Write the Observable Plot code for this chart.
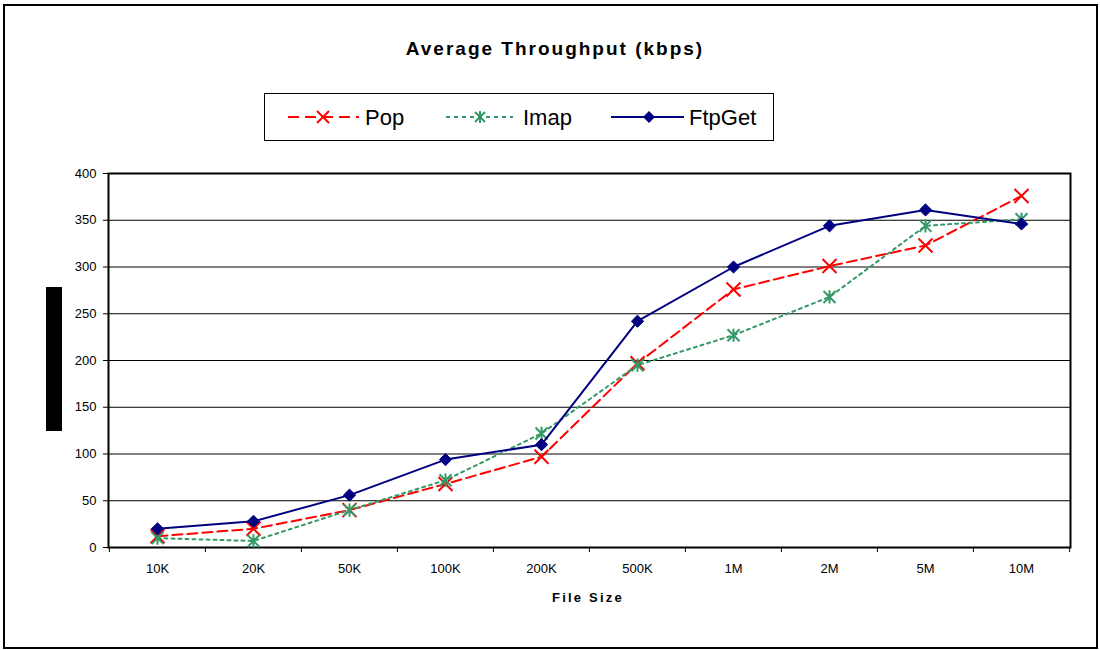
<!DOCTYPE html>
<html><head><meta charset="utf-8">
<script src="https://cdn.jsdelivr.net/npm/d3@7"></script>
<script src="https://cdn.jsdelivr.net/npm/@observablehq/plot@0.6"></script>
<style>
body{margin:0;background:#fff;font-family:"Liberation Sans",Arial,sans-serif;}
#wrap{position:relative;width:1100px;height:650px;overflow:hidden;background:#fff}
#outer{position:absolute;left:3px;top:4px;width:1095px;height:645px;box-sizing:border-box;border:2px solid #000;pointer-events:none}
#title{position:absolute;left:0;width:1110px;top:38px;text-align:center;font-weight:bold;font-size:19px;letter-spacing:2px;color:#000}
#legend{position:absolute;left:264px;top:93px;width:510px;height:48px;box-sizing:border-box;border:1px solid #000;background:#fff}
#xlabel{position:absolute;left:0;width:1176px;top:590px;text-align:center;font-weight:bold;font-size:13px;letter-spacing:2.2px;color:#000}
#ybar{position:absolute;left:46px;top:287px;width:16px;height:144px;background:#000}
#chart{position:absolute;left:0;top:0}
#chart svg text{font-size:13px}
</style></head>
<body><div id="wrap">
<div id="chart"></div>
<div id="title">Average Throughput (kbps)</div>
<div id="legend"></div>
<div id="xlabel">File Size</div>
<div id="ybar"></div>
<div id="outer"></div>
</div>
<script>
const fileSizes = ["10K","20K","50K","100K","200K","500K","1M","2M","5M","10M"];
const popValues = [12,20,40,68,97,197,276,301,323,376];
const imapValues = [10,7,40,72,122,195,227,268,344,351];
const ftpGetValues = [20,28,56,94,110,242,300,344,361,346];
const yTicks = [0,50,100,150,200,250,300,350,400];
const seriesNames = ["Pop","Imap","FtpGet"];
const seriesColors = ["#ff0000","#339966","#000080"];

const W = 1100, H = 650, mL = 108, mR = 30, mT = 173, mB = 103;
const step = (W - mL - mR) / fileSizes.length;
const unitsPerPx = 400 / (H - mT - mB);

const crossSym = {draw(ctx, size){const r = Math.sqrt(size/Math.PI); ctx.moveTo(-r,-r); ctx.lineTo(r,r); ctx.moveTo(-r,r); ctx.lineTo(r,-r);}};
const starSym = {draw(ctx, size){const r = Math.sqrt(size/Math.PI); ctx.moveTo(-r,-r); ctx.lineTo(r,r); ctx.moveTo(-r,r); ctx.lineTo(r,-r); ctx.moveTo(0,-r*1.1); ctx.lineTo(0,r*1.1);}};

const acc = {x: (d,i) => fileSizes[i], y: d => d};

const chart = Plot.plot({
  width: W, height: H,
  marginLeft: mL, marginRight: mR, marginTop: mT, marginBottom: mB,
  style: {fontFamily: "Liberation Sans, Arial, sans-serif", fontSize: "13px", color: "#000", background: "transparent", overflow: "visible"},
  x: {type: "point", domain: fileSizes, padding: 0.5, label: null, tickSize: 0, tickPadding: 16},
  y: {domain: [0, 400], ticks: yTicks, label: null, tickSize: 5, tickPadding: 7},
  marks: [
    Plot.ruleY(yTicks.filter(d => d > 0 && d < 400), {stroke: "#000", strokeWidth: 1}),
    Plot.ruleX(fileSizes, {x: d => d, dx: -step/2, y1: 0, y2: -5*unitsPerPx, stroke: "#000", strokeWidth: 1}),
    Plot.ruleX(fileSizes.slice(-1), {x: d => d, dx: step/2, y1: 0, y2: -5*unitsPerPx, stroke: "#000", strokeWidth: 1}),
    Plot.frame({stroke: "#000", strokeWidth: 2}),
    Plot.line(popValues, {...acc, stroke: seriesColors[0], strokeWidth: 2, strokeDasharray: "10,5"}),
    Plot.dot(popValues, {...acc, symbol: crossSym, r: 7, stroke: seriesColors[0], strokeWidth: 2, fill: "none"}),
    Plot.line(imapValues, {...acc, stroke: seriesColors[1], strokeWidth: 2, strokeDasharray: "3,4"}),
    Plot.dot(imapValues, {...acc, symbol: starSym, r: 6, stroke: seriesColors[1], strokeWidth: 2, fill: "none"}),
    Plot.line(ftpGetValues, {...acc, stroke: seriesColors[2], strokeWidth: 2}),
    Plot.dot(ftpGetValues, {...acc, symbol: "diamond2", r: 5.5, fill: seriesColors[2], stroke: seriesColors[2], strokeWidth: 1})
  ]
});
document.getElementById("chart").appendChild(chart);

// legend
const legendSvg = `
<svg width="510" height="48" style="position:absolute;left:0;top:0">
  <g transform="translate(-264,-93)">
    <line x1="287" y1="116" x2="358" y2="116" stroke="${seriesColors[0]}" stroke-width="2" stroke-dasharray="11,6"/>
    <path d="M316,110L328,122M316,122L328,110" stroke="${seriesColors[0]}" stroke-width="2"/>
    <text x="364" y="124" font-size="22" fill="#000">${seriesNames[0]}</text>
    <line x1="445" y1="116" x2="512" y2="116" stroke="${seriesColors[1]}" stroke-width="2" stroke-dasharray="4,4"/>
    <path d="M474,111L484,121M474,121L484,111M479,110L479,122" stroke="${seriesColors[1]}" stroke-width="2"/>
    <text x="522" y="124" font-size="22" fill="#000">${seriesNames[1]}</text>
    <line x1="610" y1="116" x2="683" y2="116" stroke="${seriesColors[2]}" stroke-width="2"/>
    <path d="M648,110L654,116L648,122L642,116Z" fill="${seriesColors[2]}"/>
    <text x="688" y="124" font-size="22" fill="#000">${seriesNames[2]}</text>
  </g>
</svg>`;
document.getElementById("legend").innerHTML = legendSvg;
</script>
</body></html>
